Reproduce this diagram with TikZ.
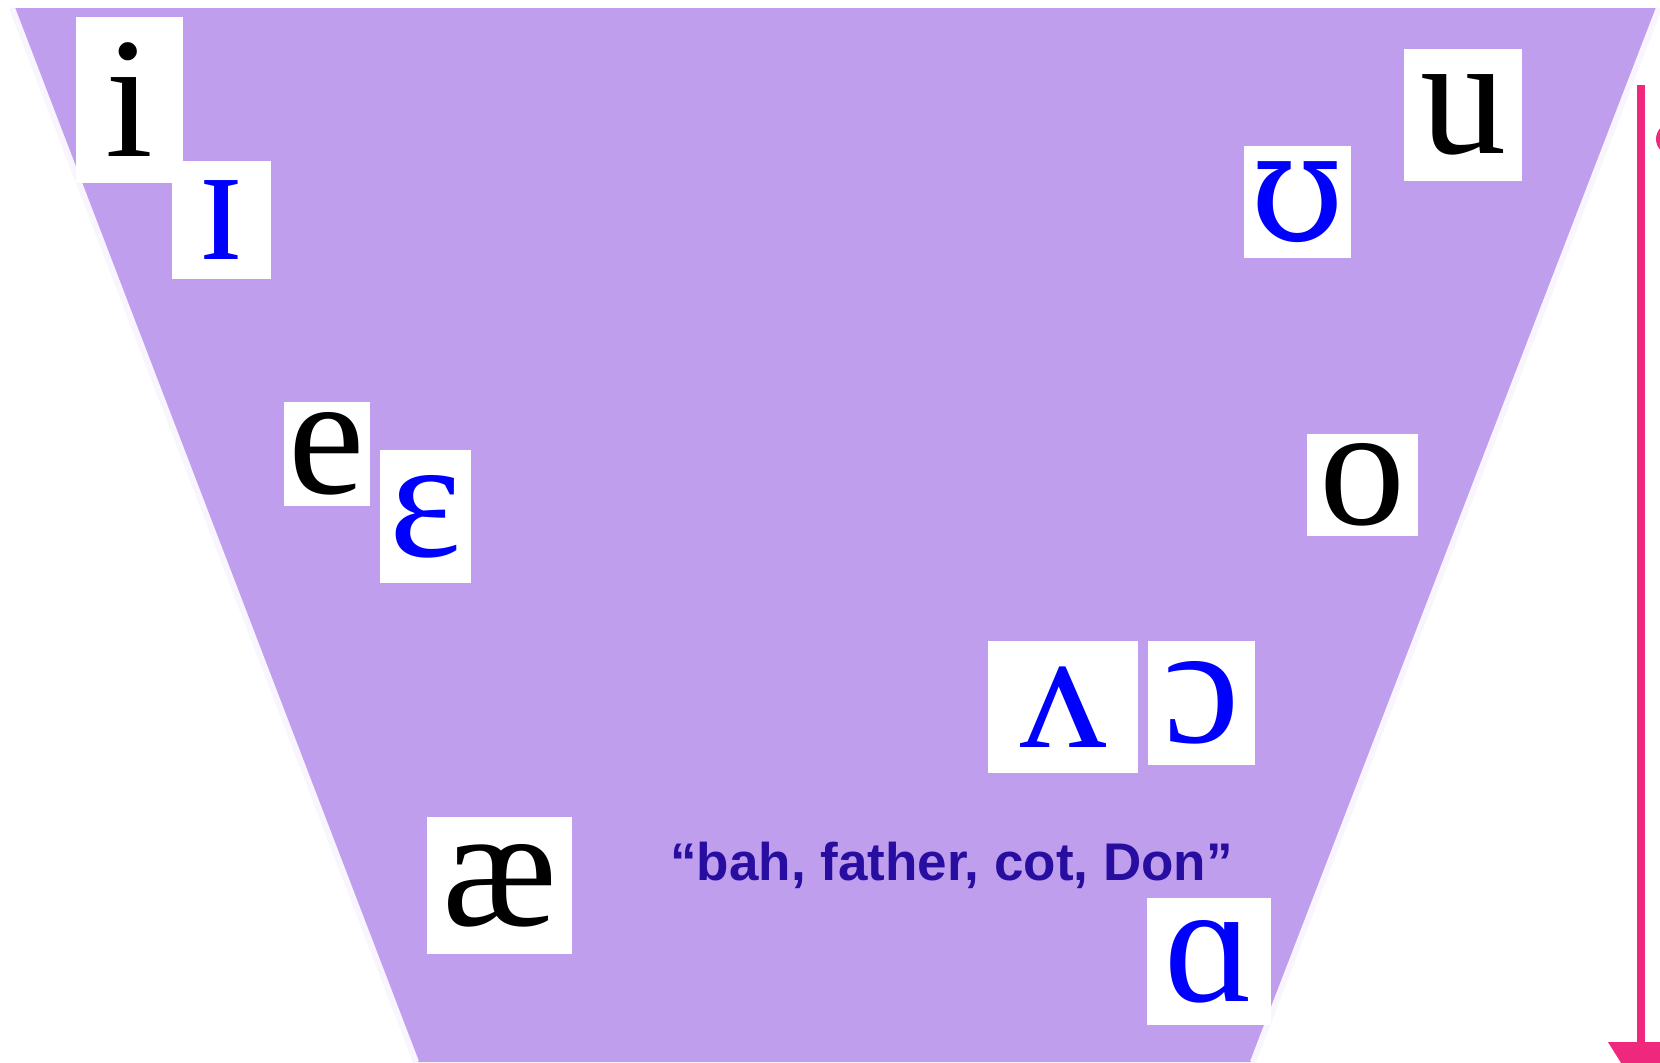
\documentclass[tikz,border=0pt]{standalone}
\usepackage{fontspec}
\setmainfont{Liberation Serif}
\newfontfamily\notefont{Liberation Sans}
\newfontfamily\upsfont{DejaVu Serif}
\usetikzlibrary{arrows.meta}
\definecolor{vowelbg}{RGB}{192,158,238}
\definecolor{edgepale}{RGB}{248,245,255}
\definecolor{laxblue}{RGB}{0,0,255}
\definecolor{noteblue}{RGB}{40,14,160}
\definecolor{arrowpink}{RGB}{240,40,125}
\tikzset{
  glyph/.style 2 args={fill=white, inner sep=0pt, font=\fontsize{86}{86}\selectfont,
    minimum width=#1*0.5pt, minimum height=#2*0.5pt},
  lax/.style={text=laxblue}
}
\begin{document}
\begin{tikzpicture}[x=0.5pt, y=-0.5pt]
  \useasboundingbox (0,0) rectangle (1660,1062);
  % vowel space, pixels from the top left corner
  \fill[vowelbg] (14,8) -- (1657,8) -- (1251,1062) -- (418,1062) -- cycle;
  \draw[edgepale, line width=3pt] (12,8) -- (416,1062) (1659,8) -- (1253,1062);
  \node[glyph={107}{166}] (i) at (129.5,100) {i};
  \node[glyph={99}{118}, lax] (smallI) at (221.5,220) {ɪ};
  \node[glyph={86}{104}] (e) at (327,454) {e};
  \node[glyph={91}{133}, lax] (epsilon) at (425.5,516.5) {ɛ};
  \node[glyph={145}{137}] (ash) at (499.5,885.5) {æ};
  \node[glyph={150}{132}, lax] (wedge) at (1063,707) {ʌ};
  \node[glyph={107}{124}, lax] (openO) at (1201.5,703) {ɔ};
  \node[glyph={124}{127}, lax] (alpha) at (1209,961.5) {ɑ};
  \node[glyph={111}{102}] (o) at (1362.5,485) {o};
  \node[glyph={107}{112}, lax, font=\upsfont\fontsize{76}{76}\selectfont] (upsilon) at (1297.5,202) {ʊ};
  \node[glyph={118}{132}] (u) at (1463,115) {u};
  \node[anchor=base west, inner sep=0pt, text=noteblue, font=\notefont\bfseries\fontsize{26.5}{30}\selectfont] (note) at (670,880) {“bah, father, cot, Don”};
  % height arrow on the right, running off the page
  \coordinate (arrowtop) at (1641,85);
  \coordinate (arrowend) at (1641,1095);
  \draw[arrowpink, line width=4pt, -{Triangle[width=32pt, length=26.5pt]}] (arrowtop) -- (arrowend);
  \fill[arrowpink] (1672,139) circle (8pt);
\end{tikzpicture}
\end{document}
